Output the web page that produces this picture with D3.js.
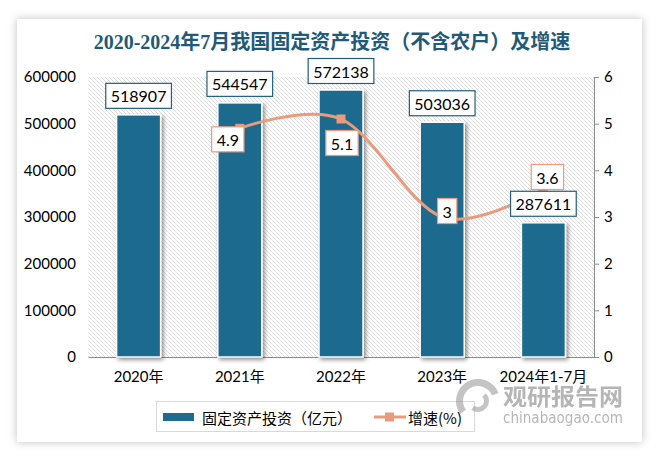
<!DOCTYPE html>
<html><head><meta charset="utf-8">
<script src="https://cdn.jsdelivr.net/npm/d3@7"></script>
<style>
html,body{margin:0;padding:0;background:#fff;}
svg{display:block;}
</style></head>
<body>
<svg id="c" width="659" height="458"></svg>
<script>
const categories = ["2020年","2021年","2022年","2023年","2024年1-7月"];
const investment = [518907,544547,572138,503036,287611];
const growth = [null,4.9,5.1,3,3.6];
const leftTicks = [0,100000,200000,300000,400000,500000,600000];
const rightTicks = [0,1,2,3,4,5,6];
const title = "2020-2024年7月我国固定资产投资（不含农户）及增速";
const legendLabels = ["固定资产投资（亿元）","增速(%)"];

const svg = d3.select("#c");
const defs = svg.append("defs");
const f = defs.append("filter").attr("id","cardShadow").attr("x","-10%").attr("y","-10%").attr("width","120%").attr("height","120%");
f.append("feDropShadow").attr("dx",0).attr("dy",0).attr("stdDeviation",4).attr("flood-color","#000").attr("flood-opacity",0.25);
const fb = defs.append("filter").attr("id","barShadow").attr("x","-30%").attr("y","-30%").attr("width","160%").attr("height","160%");
fb.append("feDropShadow").attr("dx",2).attr("dy",2).attr("stdDeviation",2).attr("flood-color","#000").attr("flood-opacity",0.45);
const pat = defs.append("pattern").attr("id","hatch").attr("patternUnits","userSpaceOnUse").attr("width",4).attr("height",4);
pat.append("rect").attr("width",4).attr("height",4).attr("fill","#fff");
pat.append("path").attr("d","M-1,-1 L5,5 M-1,3 L1,5 M3,-1 L5,1").attr("stroke","#d4d4d4").attr("stroke-width",0.8);

// card
svg.append("rect").attr("x",17).attr("y",19).attr("width",625).attr("height",423).attr("fill","#fff").attr("filter","url(#cardShadow)");

const L=88, R=594, T=77, B=357;
svg.append("rect").attr("x",L).attr("y",T).attr("width",R-L).attr("height",B-T).attr("fill","url(#hatch)");

const x = d3.scaleBand().domain(categories).range([L,R]).paddingInner(0.565).paddingOuter(0.2825);
const yL = d3.scaleLinear().domain([0,600000]).range([B,T]);
const yR = d3.scaleLinear().domain([0,6]).range([B,T]);

const font = "Lato, 'Noto Sans CJK SC', sans-serif";

// title
svg.append("text").attr("x",332).attr("y",49).attr("text-anchor","middle")
  .attr("font-family","'Liberation Serif', 'Noto Sans CJK SC', serif").attr("font-size",20).attr("font-weight","bold")
  .attr("fill","#1f5a78").text(title);

// left axis
const gl = svg.append("g").attr("transform",`translate(${L},0)`)
  .call(d3.axisLeft(yL).tickValues(leftTicks).tickSize(0).tickPadding(12).tickFormat(d3.format("d")));
gl.select(".domain").remove();
gl.selectAll("text").attr("font-family",font).attr("font-size",15).attr("fill","#000");

// right axis
const gr = svg.append("g").attr("transform",`translate(${R},0)`)
  .call(d3.axisRight(yR).tickValues(rightTicks).tickSize(5).tickPadding(5).tickFormat(d3.format("d")));
gr.select(".domain").attr("stroke","#8c8c8c").attr("stroke-width",1);
gr.selectAll("line").attr("stroke","#8c8c8c");
gr.selectAll("text").attr("font-family",font).attr("font-size",15).attr("fill","#000");

// bottom axis
const gb = svg.append("g").attr("transform",`translate(0,${B})`)
  .call(d3.axisBottom(x).tickSize(0).tickPadding(14));
gb.select(".domain").attr("stroke","#8c8c8c").attr("stroke-width",1);
gb.selectAll("text").attr("font-family",font).attr("font-size",15).attr("fill","#000");

// bars
const barColor = "#1d6b8e";
svg.append("g").selectAll("rect").data(investment).join("rect")
  .attr("x",(d,i)=>x(categories[i])).attr("y",d=>yL(d))
  .attr("width",x.bandwidth()).attr("height",d=>B-yL(d))
  .attr("fill",barColor).attr("stroke","#fff").attr("stroke-width",1.5)
  .attr("filter","url(#barShadow)");

// line
const lineColor = "#eb9a7c";
const pts = growth.map((g,i)=>g==null?null:[x(categories[i])+x.bandwidth()/2, yR(g)]).filter(p=>p);
svg.append("path").datum(pts).attr("d",d3.line().curve(d3.curveCardinal.tension(0)))
  .attr("fill","none").attr("stroke",lineColor).attr("stroke-width",3);
svg.append("g").selectAll("rect").data(pts).join("rect")
  .attr("x",d=>d[0]-4.5).attr("y",d=>d[1]-4.5).attr("width",9).attr("height",9).attr("fill",lineColor);

// label helper
function labelBox(cx, cy, text, stroke){
  const g = svg.append("g");
  const t = g.append("text").attr("x",cx).attr("y",cy).attr("text-anchor","middle").attr("dominant-baseline","central")
    .attr("font-family",font).attr("font-size",16).attr("fill","#000").text(text);
  const bb = t.node().getBBox();
  g.insert("rect","text").attr("x",bb.x-5).attr("y",cy-12.5).attr("width",bb.width+10).attr("height",25)
    .attr("fill","#fff").attr("stroke",stroke).attr("stroke-width",1.2);
}
// growth labels (offsets as placed in the reference)
const gOff = [null,[-12,11],[1,24],[5,-6],[4,-12]];
growth.forEach((g,i)=>{
  if(g==null) return;
  const cx = x(categories[i])+x.bandwidth()/2;
  labelBox(cx+gOff[i][0], yR(g)+gOff[i][1], String(g), lineColor);
});
// bar labels
investment.forEach((v,i)=>{
  const cx = x(categories[i])+x.bandwidth()/2;
  labelBox(cx, yL(v)-19, String(v), "#1f5f7f");
});

// legend
const lg = svg.append("g");
lg.append("rect").attr("x",156.5).attr("y",401.5).attr("width",318).attr("height",30).attr("fill","#fff").attr("stroke","#d9d9d9");
lg.append("rect").attr("x",163).attr("y",413).attr("width",31).attr("height",8).attr("fill",barColor);
lg.append("text").attr("x",202).attr("y",417).attr("dominant-baseline","central").attr("font-family","'Noto Sans CJK SC', sans-serif").attr("font-size",15).text(legendLabels[0]);
lg.append("line").attr("x1",374).attr("x2",406).attr("y1",417).attr("y2",417).attr("stroke",lineColor).attr("stroke-width",3);
lg.append("rect").attr("x",385).attr("y",412.5).attr("width",9).attr("height",9).attr("fill",lineColor);
lg.append("text").attr("x",408).attr("y",417).attr("dominant-baseline","central").attr("font-family","'Noto Sans CJK SC', sans-serif").attr("font-size",15).text(legendLabels[1]);

// watermark
const wm = svg.append("g").attr("opacity",0.5);
wm.append("path").attr("d",d3.arc()({innerRadius:15,outerRadius:22,startAngle:-2.2,endAngle:1.2})).attr("transform","translate(478,401)").attr("fill","#8a8a8a");
wm.append("path").attr("d",d3.arc()({innerRadius:6,outerRadius:11,startAngle:0.8,endAngle:3.8})).attr("transform","translate(478,401)").attr("fill","#8a8a8a");
wm.append("text").attr("x",503).attr("y",405).attr("font-family","'Noto Sans CJK SC', sans-serif").attr("font-weight","bold").attr("font-size",23).attr("textLength",120).attr("lengthAdjust","spacingAndGlyphs").attr("fill","#6e6e6e").text("观研报告网");
wm.append("text").attr("x",503).attr("y",423).attr("font-family","'DejaVu Sans', sans-serif").attr("font-size",15).attr("textLength",120).attr("lengthAdjust","spacingAndGlyphs").attr("fill","#6e6e6e").text("chinabaogao.com");
</script>
</body></html>
